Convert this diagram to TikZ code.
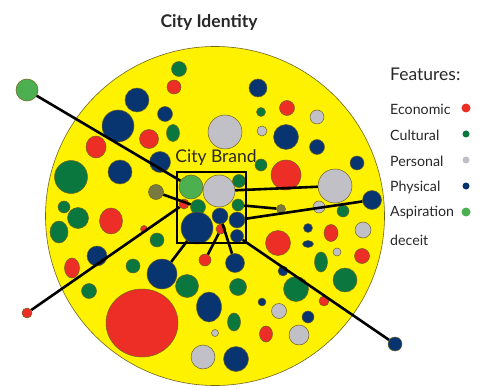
\documentclass[tikz,border=0pt]{standalone}
\usepackage{fontspec}
\setmainfont{Lato}
\usetikzlibrary{shapes.geometric}
\definecolor{yel}{RGB}{255,242,0}
\definecolor{rim}{RGB}{110,100,30}
\definecolor{cred}{RGB}{236,46,38}
\definecolor{cgreen}{RGB}{10,120,62}
\definecolor{cgray}{RGB}{192,192,198}
\definecolor{cnavy}{RGB}{8,52,112}
\definecolor{clight}{RGB}{76,176,80}
\definecolor{colive}{RGB}{122,122,62}
\definecolor{txt}{RGB}{40,40,40}
\tikzset{
  bub/.style={circle, inner sep=0pt, draw=rim, line width=0.5pt},
  ell/.style={ellipse, inner sep=0pt, draw=rim, line width=0.5pt},
  econ/.style={fill=cred},
  cult/.style={fill=cgreen},
  pers/.style={fill=cgray},
  phys/.style={fill=cnavy},
  aspi/.style={fill=clight},
  oliv/.style={fill=colive},
  link/.style={line width=2.6pt, black},
  legtxt/.style={anchor=west, inner sep=0pt, text=txt, font=\fontsize{14.2}{15}\selectfont},
  legdot/.style={circle, inner sep=0pt, draw=none}
}
\newcommand\bb[4]{\node[bub,#1,minimum size=#4] (#2) at (#3) {};}
\newcommand\ee[5]{\node[ell,#1,minimum width=#4,minimum height=#5] (#2) at (#3) {};}
\begin{document}
\begin{tikzpicture}[x=1pt,y=-1pt]
\useasboundingbox (0,0) rectangle (481,390);
\fill[white] (0,0) rectangle (481,390);
% background disc
\node[circle, fill=yel, draw=rim, line width=0.6pt, minimum size=339, inner sep=0pt] (city) at (215,216) {};
% upper left
\bb{phys}{c1}{137,100}{24}
\bb{phys}{c2}{118,126}{32}
\bb{phys}{c3}{165,114}{15}
\bb{econ}{c4}{149,139}{19}
\ee{econ}{c5}{96,147}{20}{22}
\bb{phys}{c6}{160,162}{21}
\bb{phys}{c7}{120,172}{24}
\bb{cult}{c8}{71,177}{33}
\bb{oliv}{olvA}{156,192}{15}
\bb{cult}{c10}{64,207}{12}
\bb{cult}{c11}{78,218}{21}
\ee{econ}{c12}{111,221}{23}{26}
\ee{cult}{c13}{59,232}{18}{22}
\bb{econ}{c14}{144,229}{7}
\bb{cult}{c15}{157,240}{14}
\bb{phys}{c16}{97,256}{20}
\ee{econ}{c17}{72,268}{15}{20}
\bb{cult}{c18}{133,266}{14}
\bb{phys}{nvA}{162,274}{30}
\bb{cult}{c20}{89,291}{15}
\ee{econ}{c21}{142,323}{72}{68}
\bb{cult}{c22}{187,286}{23}
\ee{phys}{c23}{209,307}{25}{30}
\bb{pers}{c24}{215,333}{7}
\bb{pers}{c25}{203,357}{24}
\ee{cult}{c26}{234,322}{13}{18}
\bb{phys}{c27}{236,359}{25}
\bb{econ}{rdB}{205,260}{12}
\bb{phys}{nvB}{235,263}{19}
\bb{cult}{c30}{238,287}{17}
\bb{phys}{c31}{262,302}{8}
\ee{econ}{c32}{266,334}{13}{16}
\bb{pers}{c33}{279,311}{15}
\bb{phys}{c34}{308,317}{12}
\bb{pers}{c35}{299,335}{20}
\bb{econ}{c36}{324,301}{10}
\bb{cult}{c37}{296,289}{25}
\bb{cult}{c38}{345,280}{24}
\bb{phys}{c39}{283,271}{10}
\ee{cult}{c40}{321,262}{13}{20}
\bb{econ}{c41}{362,256}{15}
\bb{pers}{c42}{337,252}{8}
\ee{phys}{c43}{308,244}{11}{7}
\bb{econ}{c44}{278,243}{25}
\bb{phys}{c45}{308,228}{9}
\ee{econ}{c46}{331,233}{14}{17}
\bb{pers}{c47}{363,230}{16}
% top and right
\bb{cult}{c48}{179,69}{15}
\bb{econ}{c49}{174,87}{14}
\ee{cult}{c50}{173,133}{13}{17}
\bb{pers}{c51}{225,132}{34}
\bb{phys}{c52}{258,88}{18}
\bb{cult}{c53}{261,112}{9}
\bb{econ}{c54}{287,108}{15}
\bb{pers}{c55}{317,117}{14}
\bb{pers}{c56}{262,131}{10}
\bb{phys}{c57}{286,137}{25}
\bb{phys}{c58}{317,147}{15}
\bb{phys}{c59}{357,163}{14}
\bb{cult}{c60}{261,165}{12}
\bb{econ}{c61}{286,175}{30}
\bb{pers}{gyB}{335,186}{34}
\bb{phys}{nvC}{372,200}{19}
\bb{oliv}{olvB}{281,209}{9}
\bb{pers}{c65}{319,207}{12}
\bb{cult}{c66}{343,211}{12}
% inside the brand box
\bb{aspi}{agIn}{191,187}{24}
\bb{pers}{gyIn}{219,191}{32}
\bb{cult}{c69}{239,181}{13}
\bb{econ}{rdIn}{184,204}{10}
\bb{cult}{gnIn}{198,207}{15}
\bb{cult}{gnInB}{238,205}{12}
\bb{phys}{nvIn}{220,216}{16}
\bb{phys}{nvInB}{237,220}{16}
\bb{phys}{nvInC}{197,228}{32}
\bb{econ}{rdInB}{221,229}{10}
\bb{phys}{nvInD}{237,236}{13}
% outside the disc
\bb{aspi}{agOut}{27,90}{22}
\bb{econ}{rdOut}{27,313}{10}
\bb{phys}{nvOut}{395,344}{14}
% connectors
\draw[link] (agOut) -- (agIn);
\draw[link] (olvA) -- (gnIn);
\draw[link] (rdOut) -- (rdIn);
\draw[link] (nvA) -- (nvInC);
\draw[link] (rdB) -- (rdInB);
\draw[link] (nvB) -- (nvIn);
\draw[link] (gyIn) -- (gyB);
\draw[link] (gnInB) -- (olvB);
\draw[link] (nvInB) -- (nvC);
\draw[link] (nvInD) -- (nvOut);
% brand box
\node[draw=black, line width=2.8pt, minimum width=69, minimum height=71, inner sep=0pt] (brandbox) at (211.5,207.5) {};
\node[text=txt, inner sep=0pt, font=\fontsize{17.5}{18}\selectfont] (brand) at (216,158) {City Brand};
% title
\node[text=txt, inner sep=0pt, font=\bfseries\fontsize{17.5}{18}\selectfont] (title) at (209,22) {City Identity};
% legend
\node[legtxt, font=\fontsize{17.5}{18}\selectfont] (lhead) at (390,74) {Features:};
\node[legtxt] (l1) at (390,109) {Economic};
\node[legtxt] (l2) at (390,135) {Cultural};
\node[legtxt] (l3) at (390,161) {Personal};
\node[legtxt] (l4) at (390,187) {Physical};
\node[legtxt] (l5) at (390,213) {Aspiration};
\node[legtxt] (l6) at (390,240) {deceit};
\node[legdot, fill=cred, minimum size=9] (d1) at (466,108) {};
\node[legdot, fill=cgreen, minimum size=7] (d2) at (466,134) {};
\node[legdot, fill=cgray, minimum size=7] (d3) at (466,160) {};
\node[legdot, fill=cnavy, minimum size=7] (d4) at (466,186) {};
\node[legdot, fill=clight, minimum size=9] (d5) at (466,212) {};
\end{tikzpicture}
\end{document}
